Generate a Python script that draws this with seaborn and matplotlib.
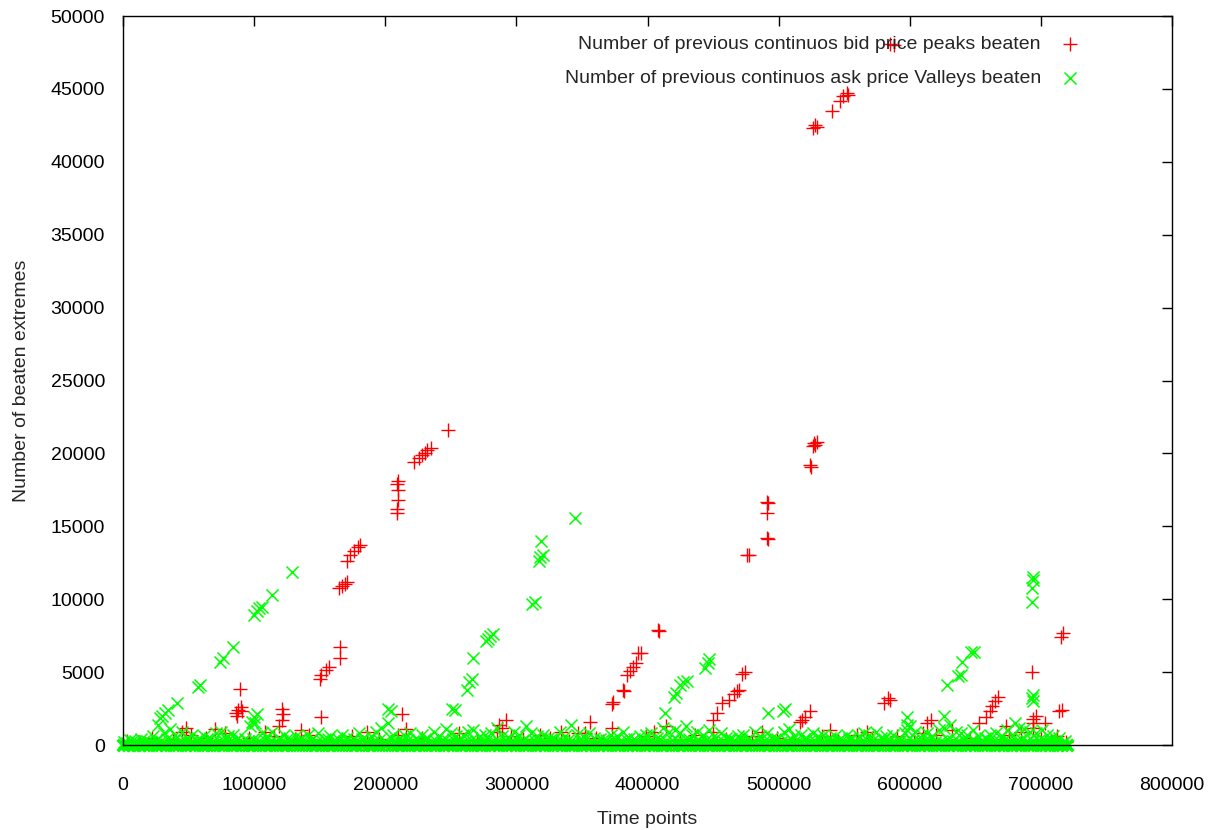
import matplotlib
matplotlib.use("Agg")
import matplotlib.pyplot as plt
import seaborn as sns
import pandas as pd

# bid price peaks beaten (red +), the clusters that stand out
bid_x = [526000, 528000, 529000, 541000, 547000, 549000, 552000, 553000,
         585000, 588000,
         248000, 235000, 232000, 230000, 228000, 226000, 222000,
         210000, 209000, 209500, 209500, 209000, 209000,
         181000, 179000, 176000, 173000, 171000,
         171000, 169000, 167000, 165000,
         165500, 165500, 157000, 155000, 151000, 150500, 151000,
         89000, 86000, 88000, 90000, 87000, 91000,
         121000, 122000, 121500, 119000,
         289000, 292000, 285000, 287000, 356000, 373000, 352000,
         374000, 373000, 381000, 382000, 384000, 387000, 389000, 391000, 393000, 395000, 408000, 409000,
         450000, 450000, 453000, 457000, 462000, 466000, 468000, 470000, 472000, 474000, 476000, 477000,
         491000, 492000, 491000, 491000, 492000,
         516000, 518000, 520000, 524000,
         524000, 525000, 526000, 527000, 528000, 529000,
         580000, 583000, 585000, 610000, 613000, 616000,
         653000, 658000, 661000, 663000, 665000, 667000,
         693000, 694000, 694000, 694000, 696000, 703000,
         714000, 716000, 715000, 717000, 213000]
bid_y = [42300, 42500, 42400, 43500, 44200, 44500, 44700, 44600,
         48100, 48000,
         21600, 20400, 20200, 20000, 19900, 19700, 19400,
         18100, 17900, 17500, 16800, 16200, 15900,
         13700, 13550, 13300, 13000, 12600,
         11200, 11050, 10900, 10750,
         6700, 6000, 5350, 5150, 4800, 4500, 1900,
         3850, 2200, 2400, 2600, 2000, 2300,
         2500, 2100, 1700, 1300,
         1170, 1700, 900, 1400, 1580, 1200, 800,
         2950, 2800, 3800, 3700, 4800, 5100, 5350, 5600, 6300, 6300, 7900, 7850,
         1700, 900, 2200, 2900, 3100, 3500, 3700, 3800, 4900, 5000, 13000, 13050,
         16700, 16600, 15900, 14200, 14100,
         1600, 1700, 1900, 2300,
         19200, 19100, 20500, 20700, 20600, 20800,
         2900, 3200, 3100, 800, 1500, 1700,
         1500, 1900, 2300, 2700, 3000, 3300,
         5000, 1800, 1500, 1200, 2000, 1500,
         2300, 2400, 7400, 7700, 2100]

# bid points close to the floor
bid_low_x = [3000, 12000, 22000, 38000, 45000, 48000, 52000, 63000, 70000, 78000,
             96000, 108000, 115000, 131000, 136000, 142000, 158000, 175000, 186000, 195000,
             210000, 216000, 228000, 240000, 256000, 270000, 296000, 305000, 318000, 326000,
             334000, 340000, 347000, 361000, 366000, 399000, 405000, 414000, 425000, 436000,
             460000, 480000, 487000, 499000, 510000, 533000, 539000, 545000, 560000, 567000,
             571000, 590000, 603000, 620000, 632000, 646000, 673000, 676000, 685000, 700000,
             708000, 712000, 719000]
bid_low_y = [300, 200, 500, 400, 900, 1200, 700, 500, 1100, 800,
             500, 900, 600, 400, 1000, 700, 300, 600, 900, 400,
             700, 1100, 500, 300, 800, 400, 600, 400, 700, 500,
             900, 300, 800, 500, 300, 600, 900, 1300, 400, 700,
             400, 600, 900, 500, 400, 600, 1000, 300, 700, 900,
             400, 600, 300, 700, 1000, 500, 1300, 700, 900, 400,
             300, 600, 200]

# ask price valleys beaten (green x), the clusters that stand out
ask_x = [28000, 30000, 32000, 34000, 41000, 57000, 59000, 74000, 76000, 84000,
         100000, 102000, 104000, 106000, 114000, 129000,
         100000, 102000, 98000, 202000, 204000, 251000, 253000,
         262000, 264000, 266000, 267000, 277000, 278000, 280000, 282000,
         312000, 314000, 317000, 318000, 320000, 319000, 345000,
         413000, 420000, 422000, 425000, 427000, 430000, 444000, 446000, 447000,
         492000, 503000, 505000, 598000, 598000, 598000,
         626000, 628000, 637000, 639000, 640000, 647000, 649000,
         694000, 694000, 693000, 693000, 694000, 693000, 694000, 680000]
ask_y = [1850, 2000, 2200, 2400, 2900, 4000, 4100, 5700, 6000, 6700,
         8900, 9200, 9400, 9500, 10300, 11900,
         1900, 2100, 1600, 2500, 2300, 2500, 2400,
         3800, 4300, 4500, 6000, 7100, 7300, 7500, 7600,
         9700, 9800, 12600, 12900, 13000, 14000, 15600,
         2200, 3300, 3600, 4100, 4300, 4400, 5300, 5600, 5900,
         2200, 2300, 2500, 1900, 1400, 1000,
         2000, 4100, 4700, 4800, 5700, 6400, 6400,
         11500, 11300, 10800, 9800, 3400, 3200, 3000, 1500]

# ask points close to the floor
ask_low_x = [1000, 5000, 9000, 14000, 18000, 23000, 27000, 31000, 36000, 40000,
             45000, 49000, 53000, 58000, 62000, 66000, 71000, 75000, 80000, 84000,
             88000, 93000, 97000, 101000, 106000, 110000, 114000, 119000, 123000, 127000,
             132000, 136000, 141000, 145000, 149000, 154000, 158000, 162000, 167000, 171000,
             176000, 180000, 184000, 189000, 193000, 197000, 202000, 206000, 211000, 215000,
             219000, 224000, 228000, 232000, 237000, 241000, 246000, 250000, 254000, 259000,
             263000, 267000, 272000, 276000, 281000, 285000, 289000, 294000, 298000, 302000,
             307000, 311000, 316000, 320000, 324000, 329000, 333000, 337000, 342000, 346000,
             351000, 355000, 359000, 364000, 368000, 372000, 377000, 381000, 386000, 390000,
             394000, 399000, 403000, 407000, 412000, 416000, 421000, 425000, 429000, 434000,
             438000, 442000, 447000, 451000, 456000, 460000, 464000, 469000, 473000, 477000,
             482000, 486000, 491000, 495000, 499000, 504000, 508000, 512000, 517000, 521000,
             526000, 530000, 534000, 539000, 543000, 547000, 552000, 556000, 561000, 565000,
             569000, 574000, 578000, 582000, 587000, 591000, 596000, 600000, 604000, 609000,
             613000, 617000, 622000, 626000, 631000, 635000, 639000, 644000, 648000, 652000,
             657000, 661000, 666000, 670000, 674000, 679000, 683000, 687000, 692000, 696000,
             701000, 705000, 709000, 714000, 718000]
ask_low_y = [200, 350, 250, 400, 300, 600, 1400, 800, 1100, 700,
             900, 500, 700, 400, 650, 500, 800, 900, 600, 700,
             500, 400, 1300, 1500, 800, 600, 900, 500, 700, 400,
             600, 450, 700, 500, 800, 400, 600, 350, 700, 500,
             400, 800, 500, 600, 900, 1200, 1500, 700, 500, 600,
             800, 400, 700, 500, 900, 600, 1100, 800, 600, 700,
             900, 1000, 600, 700, 800, 1200, 600, 500, 900, 700,
             1300, 800, 600, 700, 500, 400, 900, 600, 1400, 700,
             600, 800, 500, 400, 350, 700, 600, 900, 500, 400,
             600, 700, 800, 500, 1200, 900, 1000, 800, 1300, 700,
             900, 700, 1000, 600, 800, 500, 400, 600, 700, 500,
             900, 600, 800, 500, 400, 900, 1100, 600, 700, 500,
             800, 600, 700, 500, 600, 400, 700, 500, 600, 800,
             700, 900, 500, 600, 700, 400, 800, 1300, 900, 700,
             800, 600, 1000, 1200, 1400, 900, 800, 700, 1000, 600,
             500, 700, 800, 600, 1000, 700, 1200, 1100, 900, 800,
             1000, 700, 600, 500, 300]

# second, lower layer of ask points (the dense "grass")
ask_grass_x = [3000, 7000, 11500, 16000, 20500, 25000, 29000, 33500, 38000, 42500,
               47000, 51000, 55500, 60000, 64000, 68500, 73000, 77500, 82000, 86000,
               90500, 95000, 99000, 103500, 108000, 112000, 116500, 121000, 125000, 129500,
               134000, 138500, 143000, 147000, 151500, 156000, 160000, 164500, 169000, 173500,
               178000, 182000, 186500, 191000, 195000, 199500, 204000, 208500, 213000, 217000,
               221500, 226000, 230000, 234500, 239000, 243500, 248000, 252000, 256500, 261000,
               265000, 269500, 274000, 278500, 283000, 287000, 291500, 296000, 300000, 304500,
               309000, 313500, 318000, 322000, 326500, 331000, 335000, 339500, 344000, 348500,
               353000, 357000, 361500, 366000, 370000, 374500, 379000, 383500, 388000, 392000,
               396500, 401000, 405000, 409500, 414000, 418500, 423000, 427000, 431500, 436000,
               440000, 444500, 449000, 453500, 458000, 462000, 466500, 471000, 475000, 479500,
               484000, 488500, 493000, 497000, 501500, 506000, 510000, 514500, 519000, 523500,
               528000, 532000, 536500, 541000, 545000, 549500, 554000, 558500, 563000, 567000,
               571500, 576000, 580000, 584500, 589000, 593500, 598000, 602000, 606500, 611000,
               615000, 619500, 624000, 628500, 633000, 637000, 641500, 646000, 650000, 654500,
               659000, 663500, 668000, 672000, 676500, 681000, 685000, 689500, 694000, 698500,
               703000, 707000, 711500, 716000]
ask_grass_y = [150, 250, 100, 300, 200, 350, 250, 400, 300, 200,
               350, 150, 300, 250, 400, 200, 300, 450, 250, 350,
               200, 300, 400, 250, 350, 200, 300, 250, 400, 150,
               300, 250, 350, 200, 300, 400, 250, 350, 200, 300,
               250, 400, 300, 200, 350, 250, 450, 300, 200, 350,
               300, 250, 400, 200, 300, 350, 250, 400, 300, 200,
               350, 300, 250, 400, 300, 200, 350, 250, 400, 300,
               250, 350, 300, 200, 400, 250, 300, 350, 200, 300,
               400, 250, 300, 350, 200, 300, 250, 400, 300, 200,
               350, 300, 250, 400, 300, 350, 250, 300, 400, 200,
               300, 350, 250, 300, 200, 400, 250, 350, 300, 200,
               350, 250, 300, 400, 200, 300, 350, 250, 400, 300,
               250, 300, 350, 200, 300, 250, 400, 300, 200, 350,
               300, 250, 400, 300, 200, 350, 300, 250, 400, 300,
               350, 200, 300, 400, 250, 300, 350, 200, 300, 250,
               400, 300, 250, 350, 200, 300, 400, 250, 300, 350,
               250, 300, 200, 150]

# many ask points sit exactly on zero
ask_floor_x = [0, 4000, 8000, 12000, 16000, 20000, 25000, 29000, 33000, 38000,
               42000, 47000, 51000, 55000, 60000, 64000, 69000, 73000, 77000, 82000,
               86000, 91000, 95000, 99000, 104000, 108000, 112000, 117000, 121000, 125000,
               130000, 134000, 139000, 143000, 147000, 152000, 156000, 160000, 165000, 169000,
               174000, 178000, 182000, 187000, 191000, 195000, 200000, 204000, 209000, 213000,
               217000, 222000, 226000, 230000, 235000, 239000, 244000, 248000, 252000, 257000,
               261000, 265000, 270000, 274000, 279000, 283000, 287000, 292000, 296000, 300000,
               305000, 309000, 314000, 318000, 322000, 327000, 331000, 335000, 340000, 344000,
               349000, 353000, 357000, 362000, 366000, 370000, 375000, 379000, 384000, 388000,
               392000, 397000, 401000, 405000, 410000, 414000, 419000, 423000, 427000, 432000,
               436000, 440000, 445000, 449000, 454000, 458000, 462000, 467000, 471000, 475000,
               480000, 484000, 489000, 493000, 497000, 502000, 506000, 510000, 515000, 519000,
               524000, 528000, 532000, 537000, 541000, 545000, 550000, 554000, 559000, 563000,
               567000, 572000, 576000, 580000, 585000, 589000, 594000, 598000, 602000, 607000,
               611000, 615000, 620000, 624000, 629000, 633000, 637000, 642000, 646000, 650000,
               655000, 659000, 664000, 668000, 672000, 677000, 681000, 685000, 690000, 694000,
               699000, 703000, 707000, 712000, 716000, 720000]
ask_floor_y = [0] * len(ask_floor_x)

bid = pd.DataFrame({"t": bid_x + bid_low_x, "n": bid_y + bid_low_y})
ask = pd.DataFrame({"t": ask_x + ask_low_x + ask_grass_x,
                    "n": ask_y + ask_low_y + ask_grass_y})
floor = pd.DataFrame({"t": ask_floor_x, "n": ask_floor_y})

sns.set_style("white")
plt.rcParams["font.family"] = ["Liberation Sans", "DejaVu Sans"]

fig = plt.figure(figsize=(12.19, 8.30), dpi=100)
ax = fig.add_axes([0.1009, 0.1024, 0.8606, 0.8783])

sns.scatterplot(data=bid, x="t", y="n", marker="+", color="#ff0000", s=110,
                linewidth=1.0, clip_on=False, ax=ax,
                label="Number of previous continuos bid price peaks beaten")
sns.scatterplot(data=ask, x="t", y="n", marker="x", color="#00ff00", s=75,
                linewidth=1.1, clip_on=False, ax=ax,
                label="Number of previous continuos ask price Valleys beaten")
sns.scatterplot(data=floor, x="t", y="n", marker="x", color="#00ff00", s=70,
                linewidth=2.5, clip_on=False, ax=ax, legend=False)

ax.set_xlim(0, 800000)
ax.set_ylim(0, 50000)
ax.set_xticks(range(0, 800001, 100000))
ax.set_yticks(range(0, 50001, 5000))
ax.tick_params(direction="in", length=7, width=1, top=True, right=True,
               labelsize=14, colors="black")
ax.tick_params(axis="x", pad=23)
ax.tick_params(axis="y", pad=13)
for s in ax.spines.values():
    s.set_color("black")
    s.set_linewidth(1)
    s.set_zorder(5)
ax.set_xlabel("Time points", fontsize=14, labelpad=12)
ax.set_ylabel("Number of beaten extremes", fontsize=14, labelpad=15)

ax.legend(loc="upper right", bbox_to_anchor=(0.938, 0.997), markerfirst=False,
          frameon=False, fontsize=14, labelspacing=0.85, handletextpad=0.5,
          markerscale=1.0)

fig.savefig("out.png", dpi=100)
